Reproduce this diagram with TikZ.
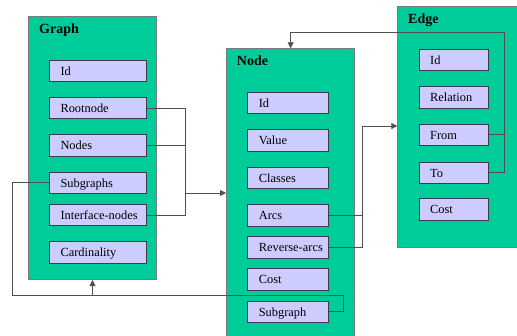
\documentclass[tikz,border=0pt]{standalone}
\usepackage{fontspec}
\setmainfont{Liberation Serif}
\usetikzlibrary{arrows.meta}
\definecolor{boxgreen}{HTML}{00CC99}
\definecolor{fieldblue}{HTML}{CCCCFF}
\definecolor{boxborder}{HTML}{7A7A7A}
\definecolor{fieldborder}{HTML}{3C3C4C}
\definecolor{linegray}{HTML}{505050}
\tikzset{
  container/.style={draw=boxborder, fill=boxgreen, line width=1pt, inner sep=0pt, anchor=north west},
  boxtitle/.style={anchor=base west, inner sep=0pt, font=\rmfamily\fontsize{14}{16}\selectfont\bfseries},
  field/.style={draw=fieldborder, fill=fieldblue, line width=1pt, anchor=north west,
    minimum height=21.3pt, inner xsep=0pt, inner ysep=0pt, align=left,
    execute at begin node={\hspace*{11pt}},
    text height=9.5pt, text depth=0.5pt, font=\rmfamily\fontsize{12.4}{14}\selectfont},
  gfield/.style={field, minimum width=96.5pt, text width=96.5pt},
  nfield/.style={field, minimum width=80.4pt, text width=80.4pt},
  efield/.style={field, minimum width=69.6pt, text width=69.6pt},
  conn/.style={draw=linegray, line width=0.9pt},
  arr/.style={-{Triangle[length=6pt,width=6pt]}}
}
\begin{document}
\begin{tikzpicture}[x=1pt,y=-1pt]
\useasboundingbox (0,0) rectangle (517,335);
\clip (0,0) rectangle (517,335);
% containers
\node[container, minimum width=128pt, minimum height=263pt] (graphBox) at (28,16) {};
\node[container, minimum width=128.3pt, minimum height=300pt] (nodeBox) at (226,48.3) {};
\node[container, minimum width=135pt, minimum height=241pt] (edgeBox) at (397.3,5.7) {};
\node[boxtitle] (graphTitle) at (39,33.3) {Graph};
\node[boxtitle] (nodeTitle) at (236.7,65) {Node};
\node[boxtitle] (edgeTitle) at (408,23) {Edge};
% Graph fields
\node[gfield] (gId) at (49,59.7) {Id};
\node[gfield] (gRoot) at (49,97) {Rootnode};
\node[gfield] (gNodes) at (49,134.3) {Nodes};
\node[gfield] (gSub) at (49,171.7) {Subgraphs};
\node[gfield] (gIface) at (49,204) {Interface-nodes};
\node[gfield] (gCard) at (49,241.3) {Cardinality};
% Node fields
\node[nfield] (nId) at (247.3,91.7) {Id};
\node[nfield] (nValue) at (247.3,129.3) {Value};
\node[nfield] (nClasses) at (247.3,166.7) {Classes};
\node[nfield] (nArcs) at (247.3,204.3) {Arcs};
\node[nfield] (nRev) at (247.3,236.3) {Reverse-arcs};
\node[nfield] (nCost) at (247.3,268.3) {Cost};
% Edge fields
\node[efield] (eId) at (418.7,48.7) {Id};
\node[efield] (eRel) at (418.7,86.3) {Relation};
\node[efield] (eFrom) at (418.7,123.7) {From};
\node[efield] (eTo) at (418.7,161.7) {To};
\node[efield] (eCost) at (418.7,198.3) {Cost};
% bus coordinates
\coordinate (busA) at (185.7,193);
\coordinate (busB) at (362.3,126);
\coordinate (busC) at (504.3,32.3);
\coordinate (busD) at (343.3,295);
\coordinate (busE) at (12,295);
% Graph -> Node
\draw[conn] (gRoot.east) -| (busA) |- (gIface.east);
\draw[conn] (gNodes.east) -- (gNodes.east -| busA);
\draw[conn,arr] (busA) -- (busA -| nodeBox.west);
% Node -> Edge
\draw[conn,arr] (nRev.east) -| (busB) -- (busB -| edgeBox.west);
\draw[conn] (nArcs.east) -- (nArcs.east -| busB);
% Edge -> Node
\draw[conn,arr] (eTo.east) -| (busC) -| (nodeBox.north);
\draw[conn] (eFrom.east) -- (eFrom.east -| busC);
% Subgraph loop -> Graph
\node[nfield] (nSub) at (247.3,300.7) {Subgraph};
\draw[conn] (nSub.east) -| (busD) -- (busE) |- (gSub.west);
\draw[conn,arr] (graphBox.south |- busD) -- (graphBox.south);
\end{tikzpicture}
\end{document}
